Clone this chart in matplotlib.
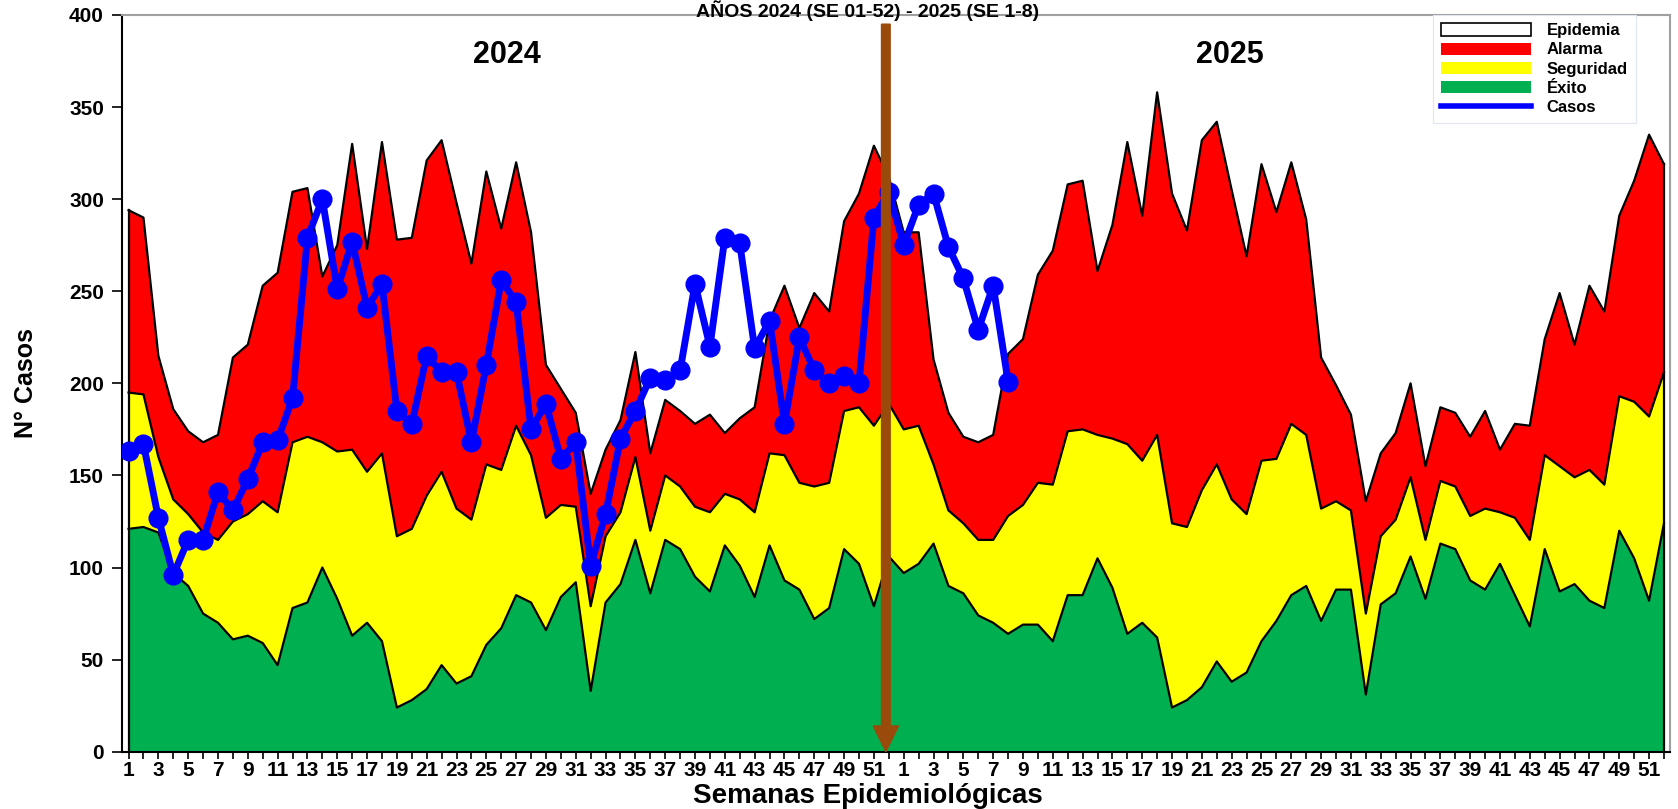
import matplotlib
matplotlib.use("Agg")
import matplotlib.pyplot as plt
from matplotlib.patches import Patch
from matplotlib.lines import Line2D
import numpy as np

plt.rcParams['font.family'] = ['Liberation Sans', 'DejaVu Sans']
plt.rcParams['font.weight'] = 'bold'
narrow = ['Liberation Sans Narrow', 'Liberation Sans', 'DejaVu Sans']

# Canal endémico: semanas 1-52 de 2024 y 1-52 de 2025
semanas_2024 = list(range(1, 53))
semanas_2025 = list(range(1, 53))

# Limite superior de cada zona (Nº casos)
exito_2024 = [121, 122, 119, 97, 90, 75, 70, 61, 63, 59, 47, 78, 81, 100, 83, 63, 70, 60, 24, 28, 34, 47, 37, 41, 58, 67,
              85, 81, 66, 84, 92, 33, 81, 91, 115, 86, 115, 110, 95, 87, 112, 101, 84, 112, 93, 88, 72, 78, 110, 102, 79, 106]
exito_2025 = [97, 102, 113, 90, 86, 74, 70, 64, 69, 69, 60, 85, 85, 105, 89, 64, 70, 62, 24, 28, 35, 49, 38, 43, 60, 71,
              85, 90, 71, 88, 88, 31, 80, 86, 106, 83, 113, 110, 93, 88, 102, 85, 68, 110, 87, 91, 82, 78, 120, 105, 82, 124]

seguridad_2024 = [195, 194, 160, 137, 129, 119, 115, 125, 129, 136, 130, 168, 171, 168, 163, 164, 152, 162, 117, 121, 139, 152, 132, 126, 156, 153,
                  177, 161, 127, 134, 133, 79, 117, 130, 160, 120, 150, 144, 133, 130, 140, 137, 130, 162, 161, 146, 144, 146, 185, 187, 177, 189]
seguridad_2025 = [175, 177, 156, 131, 124, 115, 115, 128, 134, 146, 145, 174, 175, 172, 170, 167, 158, 172, 124, 122, 142, 156, 137, 129, 158, 159,
                  178, 172, 132, 136, 131, 75, 117, 126, 149, 115, 147, 144, 128, 132, 130, 127, 115, 161, 155, 149, 153, 145, 193, 190, 182, 206]

alarma_2024 = [294, 290, 215, 186, 174, 168, 172, 214, 221, 253, 260, 304, 306, 258, 275, 330, 273, 331, 278, 279, 321, 332, 298, 265, 315, 284,
               320, 282, 210, 197, 184, 140, 164, 180, 217, 162, 191, 185, 178, 183, 173, 181, 187, 234, 253, 230, 249, 239, 288, 303, 329, 312]
alarma_2025 = [282, 282, 213, 184, 171, 168, 172, 216, 224, 259, 272, 308, 310, 261, 286, 331, 291, 358, 303, 283, 332, 342, 305, 269, 319, 293,
               320, 289, 214, 199, 183, 136, 162, 173, 200, 155, 187, 184, 171, 185, 164, 178, 177, 224, 249, 221, 253, 239, 291, 310, 335, 319]

# Casos observados: 2024 SE 1-52 y 2025 SE 1-8
casos_2024 = [163, 167, 127, 96, 115, 115, 141, 131, 148, 168, 169, 192, 279, 300, 251, 277, 241, 254, 185, 178, 215, 206, 206, 168, 210, 256,
              244, 175, 189, 159, 168, 101, 129, 170, 185, 203, 202, 207, 254, 220, 279, 276, 219, 234, 178, 225, 207, 200, 204, 200, 290, 304]
casos_2025 = [275, 297, 303, 274, 257, 229, 253, 201]

exito = np.array(exito_2024 + exito_2025)
seguridad = np.array(seguridad_2024 + seguridad_2025)
alarma = np.array(alarma_2024 + alarma_2025)
casos = np.array(casos_2024 + casos_2025)
semanas = semanas_2024 + semanas_2025
x = np.arange(len(semanas))

fig = plt.figure(figsize=(16.78, 8.09), dpi=100)
ax = fig.add_axes([0.0727, 0.0708, 0.9225, 0.9107])

# zonas
ax.fill_between(x, 0, exito, color='#00B050', lw=0)
ax.fill_between(x, exito, seguridad, color='#FFFF00', lw=0)
ax.fill_between(x, seguridad, alarma, color='#FF0000', lw=0)
for s in (exito, seguridad, alarma):
    ax.plot(x, s, color='black', lw=1.6)
ax.plot([x[0], x[0]], [0, alarma[0]], color='black', lw=1.6)
ax.plot([x[-1], x[-1]], [0, alarma[-1]], color='black', lw=1.6)

# casos
ax.plot(np.arange(len(casos)), casos, color='#0000FF', lw=5, marker='o', ms=13.5, zorder=5)

# flecha de semana actual
ax.arrow(50.8, 395, 0, -395, width=0.58, head_width=1.7, head_length=14,
         length_includes_head=True, color='#9A4A0A', zorder=6)

ax.text(25.4, 378, '2024', ha='center', va='center', fontsize=22, weight='bold')
ax.text(73.9, 378, '2025', ha='center', va='center', fontsize=22, weight='bold')

ax.set_xlim(-0.44, 103.4)
ax.set_ylim(0, 400)
ax.set_yticks(range(0, 401, 50))
ax.set_yticklabels([str(v) for v in range(0, 401, 50)], family=narrow, fontsize=15, weight='bold')
ax.set_xticks(x)
ax.set_xticklabels([str(s) if s % 2 == 1 else '' for s in semanas], family=narrow, fontsize=15, weight='bold')
ax.tick_params(axis='x', length=5, width=1.2, pad=2)
ax.tick_params(axis='y', length=7, width=1.2, pad=6)

ax.spines['left'].set_linewidth(1.5)
ax.spines['bottom'].set_linewidth(1.5)
ax.spines['top'].set_color('#a0a0a0')
ax.spines['right'].set_color('#a0a0a0')
ax.spines['top'].set_linewidth(1.5)
ax.spines['right'].set_linewidth(1.5)

ax.set_ylabel('N° Casos', fontsize=18, weight='bold')
ax.yaxis.set_label_coords(-0.054, 0.5)

fig.text(0.517, 0.0, 'Semanas Epidemiológicas', ha='center', va='bottom', fontsize=20, weight='bold')

fig.text(0.517, 0.9995, 'AÑOS 2024 (SE 01-52) - 2025 (SE 1-8)', ha='center', va='top',
         fontsize=14, weight='bold')

handles = [Patch(facecolor='white', edgecolor='black', lw=1.2),
           Patch(facecolor='#FF0000'),
           Patch(facecolor='#FFFF00'),
           Patch(facecolor='#00B050'),
           Line2D([0], [0], color='#0000FF', lw=4)]
leg = ax.legend(handles, ['Epidemia', 'Alarma', 'Seguridad', 'Éxito', 'Casos'],
                loc='upper left', bbox_to_anchor=(0.847, 1.0), fontsize=12,
                handlelength=5.4, handleheight=0.75, handletextpad=0.9,
                labelspacing=0.25, borderpad=0.5, borderaxespad=0.0,
                fancybox=False, framealpha=1)
leg.get_frame().set_edgecolor('#dfe6f0')
leg.get_frame().set_linewidth(0.8)

fig.savefig('out.png', dpi=100)
